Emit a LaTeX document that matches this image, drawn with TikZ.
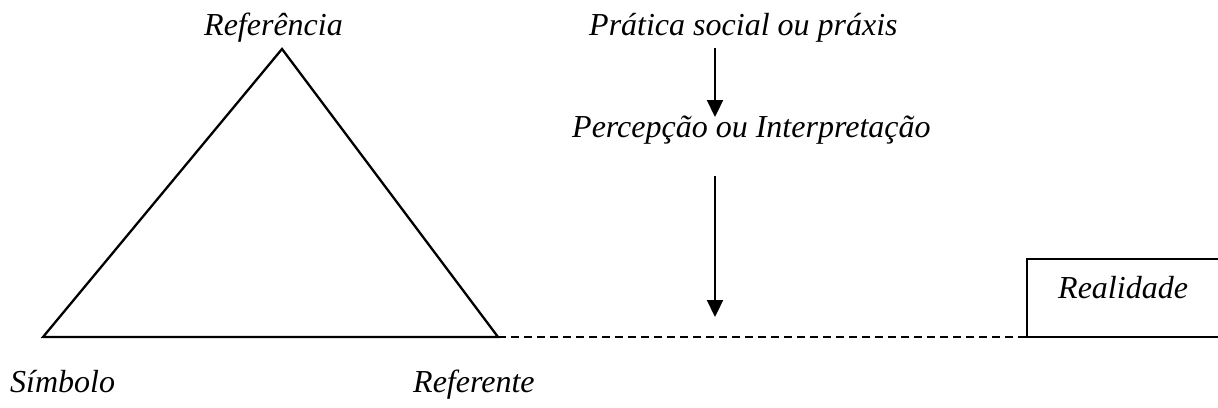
\documentclass[tikz,border=0pt]{standalone}
\usepackage{fontspec}
\setmainfont{Liberation Serif}
\usetikzlibrary{arrows.meta}
\tikzset{
  lbl/.style={anchor=base west, inner sep=0pt, font=\fontsize{32}{38}\selectfont\itshape},
  ln/.style={line width=2.3pt, line join=miter},
  dsh/.style={line width=2.3pt, dash pattern=on 8pt off 5pt},
  arr/.style={line width=2.3pt, -{Triangle[width=16pt,length=17pt]}}
}
\begin{document}
\begin{tikzpicture}[x=1pt,y=-1pt]
\useasboundingbox (0,0) rectangle (1218,407);
% triangle corners
\coordinate (apex) at (282,49);
\coordinate (sym) at (43,337);
\coordinate (ref) at (498,337);
\draw[ln] (sym) -- (apex) -- (ref) -- cycle;
% labels
\node[lbl] (referencia) at (204,35) {Referência};
\node[lbl] (simbolo) at (10,392) {Símbolo};
\node[lbl] (referente) at (413,392) {Referente};
\node[lbl] (pratica) at (589,35) {Prática social ou práxis};
\node[lbl] (percepcao) at (572,137) {Percepção ou Interpretação};
% realidade box
\node[lbl] (realidade) at (1058,298) {Realidade};
\coordinate (boxsw) at (1027,337);
\draw[ln] (1250,259) -- (1027,259) -- (boxsw) -- (1250,337);
% dashed link
\draw[dsh] (ref) -- (boxsw);
% arrows
\coordinate (a1s) at (715,48);
\coordinate (a1e) at (715,117);
\coordinate (a2s) at (715,176);
\coordinate (a2e) at (715,317);
\draw[arr] (a1s) -- (a1e);
\draw[arr] (a2s) -- (a2e);
\end{tikzpicture}
\end{document}
